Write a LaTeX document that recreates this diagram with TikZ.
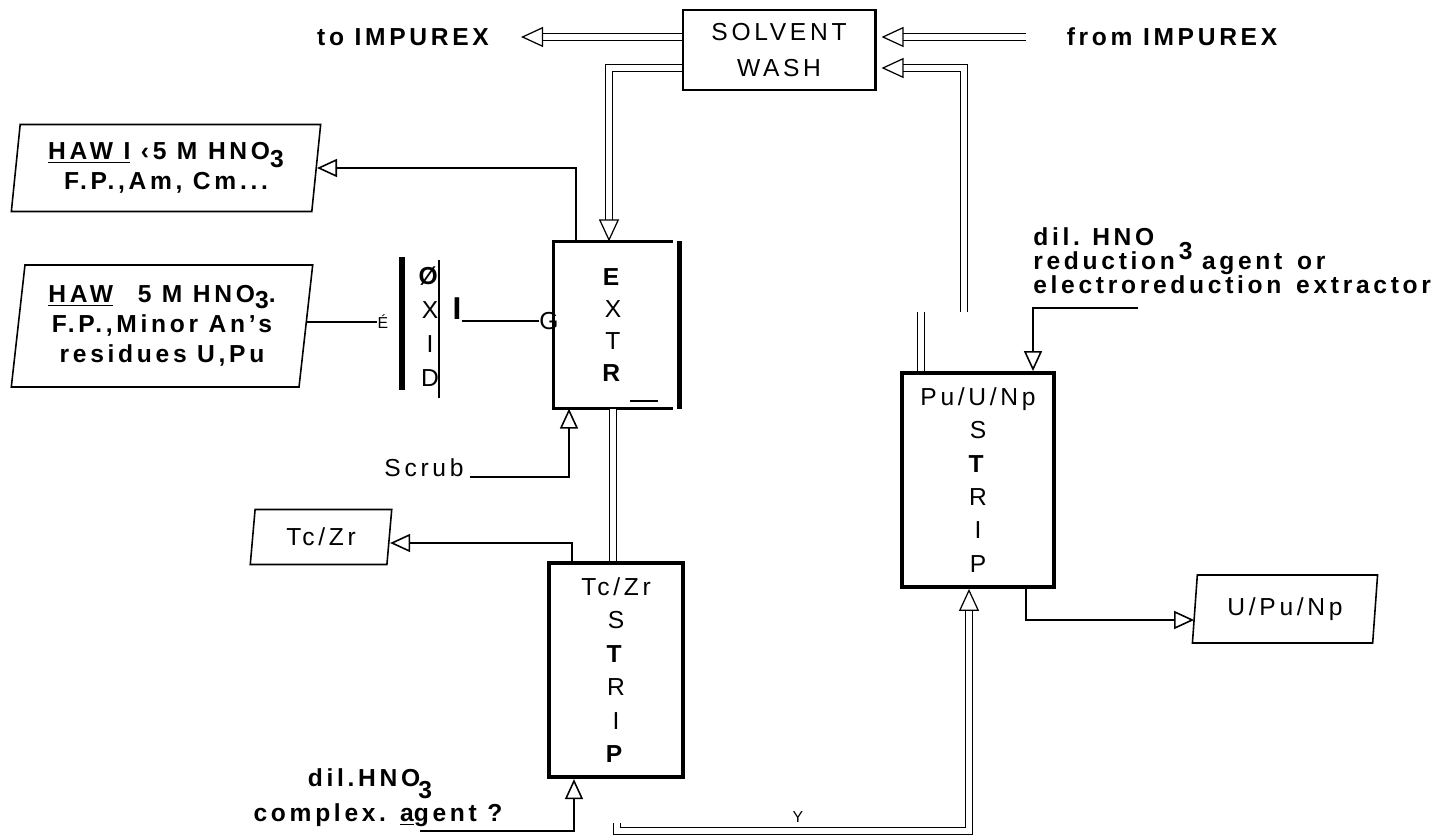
\documentclass[tikz,border=0pt]{standalone}
\usepackage{fontspec}
\setmainfont{Liberation Sans}[LetterSpace=15]
\usetikzlibrary{arrows.meta, positioning, shapes.geometric, calc}

\begin{document}
\begin{tikzpicture}[
    x=0.2mm, y=-0.2mm,
    font=\fontsize{14}{17}\selectfont,
    unit/.style={rectangle, line width=#1, inner sep=0pt, align=center,
                 font=\fontsize{14}{19}\selectfont},
    product/.style={trapezium, trapezium left angle=82, trapezium right angle=98,
                    trapezium stretches=true, draw, line width=0.9pt,
                    inner sep=0pt, align=center},
    pipe/.style={draw, line width=0.7pt, double, double distance=1.05mm,
                 -{Triangle[open, length=4.4mm, width=4mm]}},
    feed/.style={draw, line width=0.9pt,
                 -{Triangle[open, length=4mm, width=3.6mm]}},
    lbl/.style={font=\fontsize{14}{17}\selectfont\bfseries},
  ]
    \useasboundingbox (0,0) rectangle (1446,837);

    % Solvent wash
    \node[unit=1.7pt, draw, minimum width=38.4mm, minimum height=16mm,
          font=\fontsize{14}{20}\selectfont] (sw) at (779,50) {SOLVENT\\WASH};
    \node[lbl] (toimp) at (403,37) {to IMPUREX};
    \node[lbl] (frimp) at (1172,37) {from IMPUREX};

    % Extraction
    \node[unit=1.8pt, minimum width=23.2mm, minimum height=32.8mm,
          font=\fontsize{14}{18.3}\selectfont] (extr) at (613,325)
      {\textbf{E}\\X\\T\\\textbf{R}};
    \draw[line width=1.8pt] (extr.north east) -- (extr.north west)
      -- (extr.south west) -- (extr.south east);
    \draw[line width=3pt] ([xshift=1.4mm]extr.north east)
      -- ([xshift=1.4mm]extr.south east);
    \draw[line width=1.2pt] (630,401) -- (658,401);

    % Oxidation column
    \node[font=\fontsize{14}{19.3}\selectfont, align=center, inner sep=0pt]
      (oxid) at (430,327) {\textbf{Ø}\\X\\I\\D};
    \draw[line width=3pt] (402,257) -- (402,390);
    \draw[line width=0.9pt] (439,260) -- (439,398);
    \node[font=\fontsize{18}{18}\selectfont\bfseries, inner sep=0pt] (oi) at (457,309) {I};
    \node[inner sep=0pt] (og) at (549,321) {G};
    \node[inner sep=0pt, font=\fontsize{9}{9}\selectfont] (oe) at (383,322) {É};

    % Raffinates and feed
    \node[product, lbl, minimum width=62mm, minimum height=17.4mm] (hawi) at (166,168)
      {\underline{HAW I} ‹5 M HNO\raisebox{-.6ex}{3}\\F.P.,Am, Cm...};
    \node[product, lbl, minimum width=60.4mm, minimum height=24.4mm] (haw) at (162,326)
      {\underline{HAW}\quad 5 M HNO\raisebox{-.4ex}{3}.\\F.P.,Minor An's\\residues U,Pu};
    \node (scrub) at (424,468) {Scrub};
    \node[product, minimum width=28.4mm, minimum height=11mm] (tcz) at (321,537) {Tc/Zr};

    % Tc/Zr strip
    \node[unit=2.4pt, draw, minimum width=26.8mm, minimum height=42.8mm]
      (tcs) at (616,670) {Tc/Zr\\S\\\textbf{T}\\R\\I\\\textbf{P}};
    \node[lbl] (dil) at (370,778) {dil.HNO\kern-1pt\smash{\raisebox{-.9ex}{3}}};
    \node[lbl] (cplx) at (378,815) {complex. \underline{a}gent ?};

    % Pu/U/Np strip
    \node[unit=2.2pt, draw, minimum width=30.4mm, minimum height=42.8mm]
      (pus) at (978,480) {Pu/U/Np\\S\\\textbf{T}\\R\\I\\P};
    \node[lbl, align=left, anchor=north west, inner sep=0pt,
          font=\fontsize{14}{13.8}\selectfont\bfseries] (red) at (1033,227)
      {dil.\hspace{0.5em}HNO\hspace{1em}\smash{\raisebox{-8pt}{3}}\\
       reduction\hspace{1.1em}agent\hspace{0.6em}or\\
       electroreduction\hspace{0.6em}extractor};
    \node[product, minimum width=37.2mm, minimum height=13.6mm] (upn) at (1285,609) {U/Pu/Np};
    \node[font=\fontsize{9}{9}\selectfont, inner sep=0pt] (chk) at (798,817) {Y};

    % solvent streams
    \draw[pipe] (sw.west |- toimp) -- ([xshift=5.2mm]toimp.east);
    \draw[pipe] ([xshift=-7mm]frimp.west) -- ([xshift=1mm]sw.east |- frimp);
    \draw[pipe] ($(sw.west)+(0,18)$) -| ($(extr.north)+(-4,0)$);
    \coordinate (brk1) at (921,312);
    \coordinate (brk2) at (964,312);
    \draw[pipe, -] (pus.north -| brk1) -- (brk1);
    \draw[pipe] (brk2) |- ($(sw.east)+(5,18)$);
    \draw[pipe, -] (extr.south) -- (extr.south |- tcs.north);
    \coordinate (bot) at (617,823);
    \coordinate (botc) at (969,831);
    \draw[pipe] (bot) |- (botc) -- ($(pus.south)+(-9,0)$);

    % aqueous streams
    \draw[feed] ($(extr.north)+(-37,0)$) |- (hawi.east);
    \draw[line width=0.9pt] (haw.east |- oe) -- (oe.west);
    \draw[line width=0.9pt] (oi.east |- og) -- (og.west);
    \draw[feed] (scrub.base east) -| ($(extr.south)+(-44,0)$);
    \draw[feed] ($(tcs.north)+(-44,0)$) |- ([yshift=-1.2mm]tcz.east);
    \draw[feed] ($(cplx.south)+(42,-2)$) -| ($(tcs.south)+(-42,0)$);
    \coordinate (redl) at (1138,308);
    \draw[feed] (redl) -| ($(pus.north)+(55,0)$);
    \draw[feed] ($(pus.south)+(48,0)$) |- ([yshift=-2.2mm]upn.west);
\end{tikzpicture}
\end{document}
